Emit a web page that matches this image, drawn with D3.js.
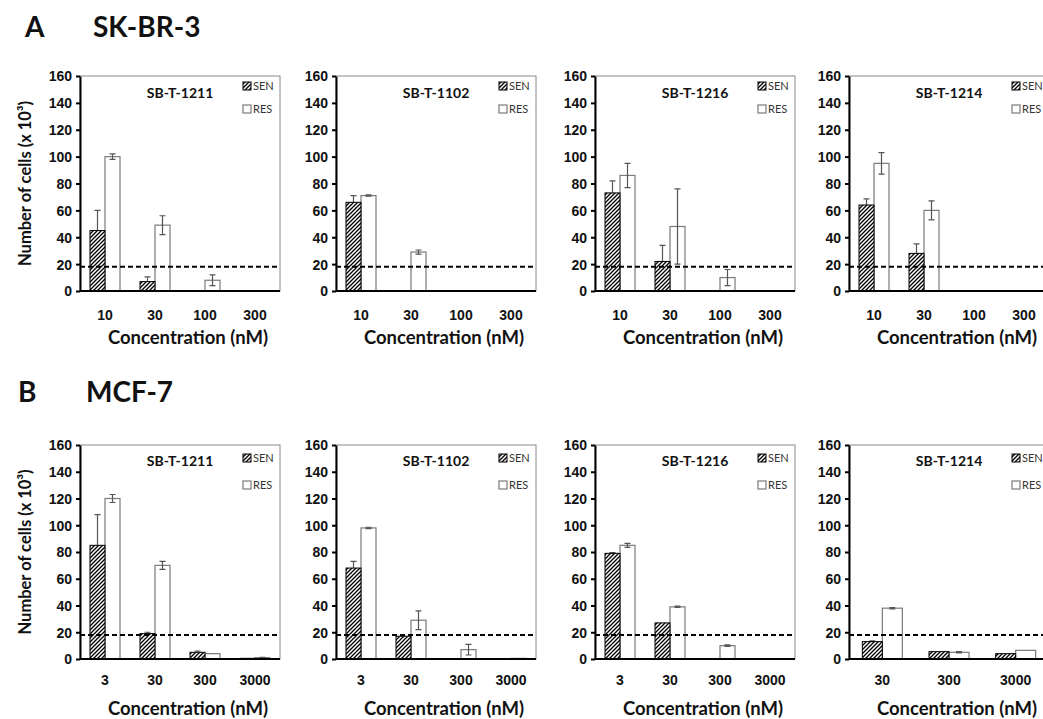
<!DOCTYPE html>
<html lang="en">
	<head>
		<title>SK-BR-3 / MCF-7 cell counts</title>
		<style>
			body { margin: 0; background: #fff; }
			svg { font-family: Lato, "Open Sans", sans-serif; }
			.frame { fill: none; stroke: #8a8a8a; stroke-width: 1px; }
			.axis path, .axis line { stroke: #000; stroke-width: 2px; }
			.axis text { font-size: 14px; font-weight: bold; fill: #111; }
			.sen { fill: url(#hatch); stroke: #000; stroke-width: 1px; }
			.res { fill: #fff; stroke: #7a7a7a; stroke-width: 1.2px; }
			.err { stroke: #555; stroke-width: 1.2px; fill: none; }
			.cutoff { stroke: #000; stroke-width: 2px; stroke-dasharray: 5,3; }
			.title { font-size: 14px; font-weight: bold; fill: #111; }
			.legend text { font-size: 11px; fill: #333; }
			.xtitle { font-size: 18.5px; font-weight: bold; fill: #111; }
			.ytitle { font-size: 16.5px; font-weight: bold; fill: #111; }
			.header { font-size: 28px; font-weight: bold; fill: #111; }
		</style>
	</head>
	<body>
		<div id="graphic"></div>

		<script src="https://cdnjs.cloudflare.com/ajax/libs/d3/7.8.5/d3.min.js"></script>
		<script>
			// ---- data ----
			var compounds = ['SB-T-1211', 'SB-T-1102', 'SB-T-1216', 'SB-T-1214'];
			var cutoff = 18;
			var yTicks = [0, 20, 40, 60, 80, 100, 120, 140, 160];

			// SK-BR-3 (panel A), concentrations 10/30/100/300 nM
			var concA = ['10', '30', '100', '300'];
			var skbr3Sen    = [[45, 7, 0, 0], [66, 0, 0, 0], [73, 22, 0, 0], [64, 28, 0, 0]];
			var skbr3SenErr = [[15, 3.5, 0, 0], [5, 0, 0, 0], [9, 12, 0, 0], [4.5, 7, 0, 0]];
			var skbr3Res    = [[100, 49, 8, 0], [71, 29, 0, 0], [86, 48, 10, 0], [95, 60, 0, 0]];
			var skbr3ResErr = [[2, 7, 4, 0], [0.5, 1.5, 0, 0], [9, 28, 6, 0], [8, 7, 0, 0]];

			// MCF-7 (panel B), concentrations 3/30/300/3000 nM (SB-T-1214: 30/300/3000)
			var concB = ['3', '30', '300', '3000'];
			var concB4 = ['30', '300', '3000'];
			var mcf7Sen    = [[85, 19, 5, 0.5], [68, 17, 0, 0], [79, 27, 0, 0], [13, 5.5, 4]];
			var mcf7SenErr = [[23, 1, 1, 0], [5, 0, 0, 0], [0.5, 0, 0, 0], [0.5, 0, 0]];
			var mcf7Res    = [[120, 70, 4, 1], [98, 29, 7, 0.5], [85, 39, 10, 0], [38, 5, 6.5]];
			var mcf7ResErr = [[3, 3, 0, 0.3], [0.5, 7, 4, 0], [1.5, 0.5, 0.5, 0], [0.5, 0.5, 0]];

			// ---- layout ----
			var width = 1043, height = 719,
			    plotW = 200,
			    lefts = [80, 336, 595, 849];

			var svg = d3.select('#graphic')
			            .append('svg')
			            .attr('width', width)
			            .attr('height', height);

			svg.append('rect')
			   .attr('width', width)
			   .attr('height', height)
			   .attr('fill', '#fff');

			var pat = svg.append('defs')
			             .append('pattern')
			             .attr('id', 'hatch')
			             .attr('patternUnits', 'userSpaceOnUse')
			             .attr('width', 4)
			             .attr('height', 4);
			pat.append('rect').attr('width', 4).attr('height', 4).attr('fill', '#fff');
			pat.append('path')
			   .attr('d', 'M-1,1 l2,-2 M0,4 l4,-4 M3,5 l2,-2')
			   .attr('stroke', '#000')
			   .attr('stroke-width', 1.3);

			var rows = [
				{ header: 'A', name: 'SK-BR-3', hx: 25, nx: 93, hy: 37, top: 76, bottom: 291,
				  cats: [concA, concA, concA, concA],
				  sen: skbr3Sen, senErr: skbr3SenErr, res: skbr3Res, resErr: skbr3ResErr,
				  tickY: 29, xTitleY: 53, titleY: 22, legY: [10, 33],
				  xTitles: ['Concentration  (nM)', 'Concentration (nM)', 'Concentration (nM)', 'Concentration  (nM)'] },
				{ header: 'B', name: 'MCF-7', hx: 18, nx: 86, hy: 402, top: 445, bottom: 659,
				  cats: [concB, concB, concB, concB4],
				  sen: mcf7Sen, senErr: mcf7SenErr, res: mcf7Res, resErr: mcf7ResErr,
				  tickY: 26, xTitleY: 56, titleY: 21, legY: [13, 40],
				  xTitles: ['Concentration (nM)', 'Concentration (nM)', 'Concentration (nM)', 'Concentration  (nM)'] }
			];

			rows.forEach(function(row) {
				svg.append('text').classed('header', true)
				   .attr('x', row.hx).attr('y', row.hy).text(row.header);
				svg.append('text').classed('header', true)
				   .attr('x', row.nx).attr('y', row.hy).text(row.name);

				var y = d3.scaleLinear().domain([0, 160]).range([row.bottom, row.top]);

				// y title, first panel only
				svg.append('text').classed('ytitle', true)
				   .attr('text-anchor', 'middle')
				   .attr('transform', 'translate(31,' + ((row.top + row.bottom) / 2) + ') rotate(-90)')
				   .text('Number of cells (x 10\u00B3)');

				compounds.forEach(function(cmp, p) {
					var left = lefts[p],
					    cats = row.cats[p];

					var x0 = d3.scaleBand().domain(cats)
					           .range([left, left + plotW])
					           .paddingInner(0.4).paddingOuter(0.2);
					var x1 = d3.scaleBand().domain(['SEN', 'RES'])
					           .range([0, x0.bandwidth()]);

					var g = svg.append('g');

					g.append('rect').classed('frame', true)
					 .attr('x', left).attr('y', row.top)
					 .attr('width', plotW).attr('height', row.bottom - row.top);

					var data = cats.map(function(c, i) {
						return { cat: c,
						         sen: row.sen[p][i], senErr: row.senErr[p][i],
						         res: row.res[p][i], resErr: row.resErr[p][i] };
					});

					// RES bars
					g.selectAll('.res').data(data.filter(function(d) { return d.res > 0; }))
					 .enter().append('rect').classed('res', true)
					 .attr('x', function(d) { return x0(d.cat) + x1('RES'); })
					 .attr('y', function(d) { return y(d.res); })
					 .attr('width', x1.bandwidth())
					 .attr('height', function(d) { return y(0) - y(d.res); });

					// error bars
					var errs = [];
					data.forEach(function(d) {
						if (d.sen > 0 && d.senErr > 0) errs.push({ cx: x0(d.cat) + x1('SEN') + x1.bandwidth() / 2, v: d.sen, e: d.senErr });
						if (d.res > 0 && d.resErr > 0) errs.push({ cx: x0(d.cat) + x1('RES') + x1.bandwidth() / 2, v: d.res, e: d.resErr });
					});
					g.selectAll('.err').data(errs)
					 .enter().append('path').classed('err', true)
					 .attr('d', function(d) {
						var hi = y(d.v + d.e), lo = y(Math.max(0, d.v - d.e)), c = 3;
						return 'M' + d.cx + ',' + hi + 'V' + lo +
						       'M' + (d.cx - c) + ',' + hi + 'H' + (d.cx + c) +
						       'M' + (d.cx - c) + ',' + lo + 'H' + (d.cx + c);
					 });

					// SEN bars (hatched) cover the lower half of their error bars
					g.selectAll('.sen').data(data.filter(function(d) { return d.sen > 0; }))
					 .enter().append('rect').classed('sen', true)
					 .attr('x', function(d) { return x0(d.cat) + x1('SEN'); })
					 .attr('y', function(d) { return y(d.sen); })
					 .attr('width', x1.bandwidth())
					 .attr('height', function(d) { return y(0) - y(d.sen); });

					// axes
					var ya = g.append('g').classed('axis', true)
					          .attr('transform', 'translate(' + left + ',0)')
					          .call(d3.axisLeft(y).tickValues(yTicks).tickSize(4).tickSizeOuter(0).tickPadding(4));
					ya.selectAll('text').attr('dy', '0.35em');

					var xa = g.append('g').classed('axis', true)
					          .attr('transform', 'translate(0,' + row.bottom + ')')
					          .call(d3.axisBottom(x0).tickSize(0).tickSizeOuter(0));
					xa.select('.domain').attr('d', 'M' + left + ',0H' + (left + plotW));
					xa.selectAll('text').attr('y', row.tickY).attr('dy', 0);

					// cutoff line
					g.append('line').classed('cutoff', true)
					 .attr('x1', left).attr('x2', left + plotW)
					 .attr('y1', y(cutoff)).attr('y2', y(cutoff));

					// title and legend
					g.append('text').classed('title', true)
					 .attr('text-anchor', 'middle')
					 .attr('x', left + 100).attr('y', row.top + row.titleY)
					 .text(cmp);

					var leg = g.append('g').classed('legend', true)
					           .attr('transform', 'translate(' + (left + 163) + ',' + row.top + ')');
					[['SEN', 'sen'], ['RES', 'res']].forEach(function(s, i) {
						leg.append('rect').classed(s[1], true)
						   .attr('x', 0).attr('y', row.legY[i] - 4)
						   .attr('width', 8).attr('height', 8);
						leg.append('text')
						   .attr('x', 10).attr('y', row.legY[i] + 4)
						   .text(s[0]);
					});

					g.append('text').classed('xtitle', true)
					 .attr('text-anchor', 'middle')
					 .attr('x', left + 108).attr('y', row.bottom + row.xTitleY)
					 .text(row.xTitles[p]);
				});
			});
		</script>
	</body>
</html>
